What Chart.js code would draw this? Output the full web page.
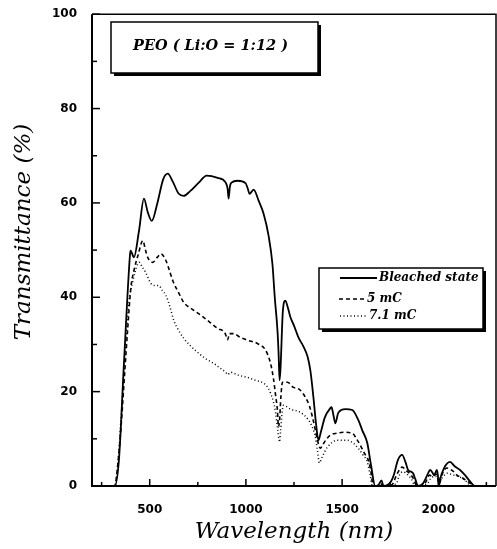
<!DOCTYPE html>
<html><head><meta charset="utf-8">
<script src="https://cdn.jsdelivr.net/npm/chart.js@4.4.1/dist/chart.umd.min.js"></script>
<style>html,body{margin:0;padding:0;background:#fff}#wrap{width:497px;height:549px;position:relative}</style>
</head><body><div id="wrap"><canvas id="c"></canvas></div>
<script>
// ---- data ----
const bleachedX = [200,318,340,366,397,400,418,444,470,490,511,540,570,594,620,650,677,710,755,796,853,895,905,910,917,925,957,998,1010,1019,1040,1066,1092,1118,1138,1150,1164,1170,1175,1180,1192,1205,1220,1232,1250,1273,1300,1320,1335,1351,1365,1377,1390,1410,1439,1445,1455,1465,1480,1517,1553,1584,1605,1631,1650,1672,1690,1705,1715,1740,1755,1770,1790,1812,1830,1843,1860,1869,1880,1895,1920,1945,1957,1970,1978,1993,2000,2004,2010,2030,2061,2085,2113,2139,2165,2190,2300];
const bleachedY = [0,0,5.5,26,48.8,49.9,48.5,54,60.9,58,56.2,60,65,66.2,64.5,62,61.5,62.5,64.3,65.8,65.3,64.3,63,60.9,63.5,64.3,64.7,64.2,63,61.9,62.8,60.5,57.7,53,47,40,33,28,22.4,25,37,39.3,37.5,35.7,34,31.5,29.5,27.5,24.5,18.8,13,9.7,11.5,14.5,16.5,16.7,15,13.3,15.5,16.3,16.1,14,11.8,9.1,4.5,0,0.3,1.2,0,0.3,1,2.5,5.5,6.6,5,3.4,3,2.7,1.5,0,0.5,2.5,3.4,2.8,2.3,3.4,1.5,0,1.5,3.8,5.1,4.2,3.4,2.3,1,0,0];

const mc5X = [200,318,330,350,370,385,402,420,440,464,478,490,516,540,558,584,600,620,650,677,720,765,810,853,890,900,905,915,936,970,1009,1060,1102,1128,1143,1155,1164,1169,1175,1182,1190,1216,1247,1268,1283,1309,1330,1346,1360,1372,1387,1400,1420,1439,1475,1506,1553,1575,1594,1615,1636,1650,1662,1700,1710,1720,1760,1785,1812,1835,1855,1869,1890,1930,1955,1970,1990,2005,2020,2045,2075,2097,2130,2165,2185,2300];
const mc5Y = [0,0,3,12,24,33,42,46,49,52,50,48.4,47.4,48.5,49.2,47.8,46,43.5,41,38.9,37.5,36.2,34.8,33.4,32.5,31.5,31,32.3,32.3,31.5,30.9,30.2,28.8,26,22.8,19,16,12.5,14,19,22,22,20.9,20.7,20.3,18.8,17,14.6,12,9.7,8,8.8,10,10.8,11.2,11.4,11.2,10,8.7,7,5.5,3,0,0,0.6,0,0.3,2.5,4,3.2,2.5,1.7,0,0.5,2.3,2,2.5,0.5,2.5,3.8,3.2,2.3,1.6,0.6,0,0];

const mc71X = [200,318,335,355,375,392,410,438,445,460,480,506,530,547,565,584,605,625,650,677,710,750,790,832,865,895,905,920,960,1009,1050,1092,1115,1128,1142,1154,1165,1172,1175,1180,1188,1195,1232,1283,1325,1345,1361,1372,1382,1395,1410,1423,1475,1527,1560,1584,1610,1631,1645,1657,1780,1800,1817,1840,1860,1880,1940,1965,1990,2010,2045,2080,2123,2150,2170,2300];
const mc71Y = [0,0,5,17,30,38.9,43,47.1,47.4,46.5,45.2,42.9,42.5,42.5,41.5,40.4,38,35.1,33,31.3,29.8,28.3,27,26,25,24.1,23.6,24.1,23.5,23,22.4,21.8,20.8,19.7,18,15.6,12,9.8,9.3,11.5,15.5,17.1,16.3,15.6,14,12.5,10.4,7.5,4.9,6,7.3,8.2,9.7,9.7,9,8,6.5,5.1,2.5,0,0.4,2.5,3,2.4,1.5,0,0.4,1.8,2,1.5,2.7,2.3,1.7,0.8,0,0];

const seriesNames = ['Bleached state', '5 mC', '7.1 mC'];
const xTickValues = [250,500,750,1000,1250,1500,1750,2000,2250];
const yTickValues = [0,10,20,30,40,50,60,70,80,90,100];
const xAxisTitle = 'Wavelength (nm)';
const yAxisTitle = 'Transmittance (%)';
const panelTitle = 'PEO ( Li:O = 1:12 )';

const toPts = (xs, ys) => xs.map((x, i) => ({x, y: ys[i]}));
const SERIF = '"DejaVu Serif", serif';

const decor = {
  id: 'decor',
  afterDraw(chart) {
    const {ctx, chartArea: a, scales: {x, y}} = chart;
    ctx.save();
    ctx.strokeStyle = '#000'; ctx.fillStyle = '#000';
    // frame
    ctx.lineWidth = 2;
    ctx.beginPath(); ctx.moveTo(a.left, a.top); ctx.lineTo(a.left, a.bottom); ctx.lineTo(a.right, a.bottom); ctx.stroke();
    ctx.lineWidth = 1.5;
    ctx.beginPath(); ctx.moveTo(a.left, a.top); ctx.lineTo(a.right, a.top); ctx.lineTo(a.right, a.bottom); ctx.stroke();
    // inward ticks
    ctx.lineWidth = 1.5;
    x.ticks.forEach(t => {
      const px = x.getPixelForValue(t.value);
      const len = t.value % 500 === 0 ? 7 : 4;
      ctx.beginPath(); ctx.moveTo(px, a.bottom); ctx.lineTo(px, a.bottom - len); ctx.stroke();
    });
    y.ticks.forEach(t => {
      const py = y.getPixelForValue(t.value);
      const len = t.value % 20 === 0 ? 8 : 5;
      ctx.beginPath(); ctx.moveTo(a.left, py); ctx.lineTo(a.left + len, py); ctx.stroke();
    });
    // axis titles
    ctx.font = 'italic 23px ' + SERIF;
    ctx.textAlign = 'center'; ctx.textBaseline = 'middle';
    ctx.fillText(xAxisTitle, (a.left + a.right) / 2, 532);
    ctx.save(); ctx.translate(24, 232); ctx.rotate(-Math.PI / 2);
    ctx.fillText(yAxisTitle, 0, 0); ctx.restore();
    // panel title box with shadow
    ctx.fillStyle = '#fff';
    ctx.fillRect(111, 22, 207, 51);
    ctx.fillStyle = '#000';
    ctx.fillRect(114, 73, 207, 3); ctx.fillRect(318, 25, 3, 51);
    ctx.lineWidth = 1.5; ctx.strokeRect(111, 22, 207, 51);
    ctx.font = 'bold italic 14.5px ' + SERIF;
    ctx.textAlign = 'left';
    ctx.fillText(panelTitle, 133, 46);
    // legend box with shadow
    ctx.fillStyle = '#fff';
    ctx.fillRect(319, 268, 164, 61);
    ctx.fillStyle = '#000';
    ctx.fillRect(322, 329, 164, 3); ctx.fillRect(483, 271, 3, 61);
    ctx.strokeRect(319, 268, 164, 61);
    const items = [
      {y: 278, x1: 340, x2: 377, dash: [], w: 1.8, tx: 379},
      {y: 299, x1: 339, x2: 365, dash: [4, 3], w: 1.6, tx: 367},
      {y: 316, x1: 340, x2: 367, dash: [1, 2.5], w: 1.5, tx: 369}
    ];
    ctx.font = 'bold italic 12px ' + SERIF;
    ctx.textBaseline = 'middle';
    items.forEach((it, i) => {
      ctx.setLineDash(it.dash); ctx.lineWidth = it.w;
      ctx.beginPath(); ctx.moveTo(it.x1, it.y); ctx.lineTo(it.x2, it.y); ctx.stroke();
      ctx.setLineDash([]);
      ctx.fillText(seriesNames[i], it.tx, it.y);
    });
    ctx.restore();
  }
};

new Chart(document.getElementById('c'), {
  type: 'line',
  data: {
    datasets: [
      {label: seriesNames[0], data: toPts(bleachedX, bleachedY), borderColor: '#000', borderWidth: 1.8, borderDash: []},
      {label: seriesNames[1], data: toPts(mc5X, mc5Y), borderColor: '#000', borderWidth: 1.6, borderDash: [4, 3]},
      {label: seriesNames[2], data: toPts(mc71X, mc71Y), borderColor: '#000', borderWidth: 1.5, borderDash: [1, 2.5]}
    ]
  },
  options: {
    responsive: true, maintainAspectRatio: false, animation: false,
    layout: {padding: {top: 14, right: 1, left: 0, bottom: 0}},
    elements: {point: {radius: 0}, line: {cubicInterpolationMode: 'monotone', fill: false}},
    plugins: {legend: {display: false}, tooltip: {enabled: false}, title: {display: false}},
    scales: {
      x: {
        type: 'linear', min: 200, max: 2300,
        afterBuildTicks: s => { s.ticks = xTickValues.map(v => ({value: v})); },
        afterFit: s => { s.height = 63; },
        grid: {display: false}, border: {display: false},
        ticks: {padding: 9, color: '#000', font: {family: '"DejaVu Sans", sans-serif', weight: 'bold', size: 12},
          maxRotation: 0, autoSkip: false,
          callback: v => (v % 500 === 0 ? String(v) : '')}
      },
      y: {
        type: 'linear', min: 0, max: 100,
        afterBuildTicks: s => { s.ticks = yTickValues.map(v => ({value: v})); },
        afterFit: s => { s.width = 92; },
        grid: {display: false}, border: {display: false},
        ticks: {padding: 7, color: '#000', font: {family: '"DejaVu Sans", sans-serif', weight: 'bold', size: 12},
          autoSkip: false,
          callback: v => (v % 20 === 0 ? String(v) : '')}
      }
    }
  },
  plugins: [decor]
});
</script></body></html>
